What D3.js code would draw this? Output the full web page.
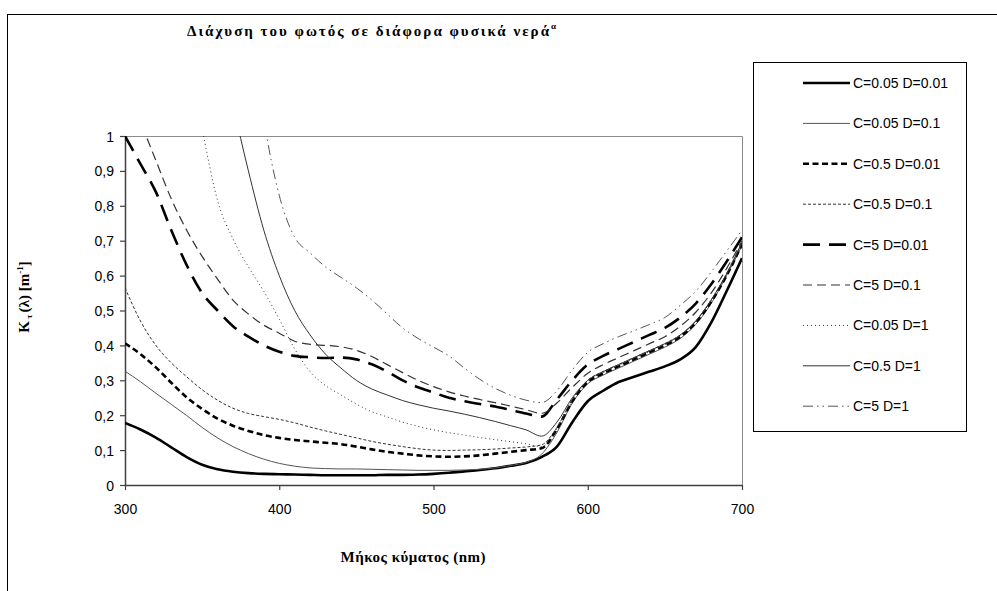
<!DOCTYPE html>
<html>
<head>
<meta charset="utf-8">
<script src="https://cdnjs.cloudflare.com/ajax/libs/d3/7.8.5/d3.min.js"></script>
<style>
  body { margin: 0; background: #fff; }
  svg { display: block; }
  .tick text { font-family: "Liberation Sans", Arial, sans-serif; font-size: 14px; fill: #000; }
  .legend text { font-family: "Liberation Sans", Arial, sans-serif; font-size: 14px; fill: #000; }
  .serif { font-family: "Liberation Serif", "Times New Roman", serif; font-weight: bold; fill: #000; }
</style>
</head>
<body>
<script>
// wavelength grid (nm)
var wavelengths = [300, 310, 320, 330, 340, 350, 360, 370, 380, 390,
  400, 410, 420, 430, 440, 450, 460, 470, 480, 490,
  500, 510, 520, 530, 540, 550, 560, 570, 580, 590,
  600, 610, 620, 630, 640, 650, 660, 670, 680, 690, 700];

// series names (legend order)
var seriesNames = ["C=0.05 D=0.01", "C=0.05 D=0.1", "C=0.5 D=0.01", "C=0.5 D=0.1",
  "C=5 D=0.01", "C=5 D=0.1", "C=0.05 D=1", "C=0.5 D=1", "C=5 D=1"];

// K(λ) values, one per wavelength (null = not plotted)
var c005d001 = [0.178, 0.159, 0.136, 0.108, 0.08, 0.058, 0.045, 0.038, 0.034, 0.032,
  0.031, 0.030, 0.029, 0.028, 0.028, 0.028, 0.028, 0.029, 0.029, 0.030,
  0.032, 0.035, 0.039, 0.043, 0.048, 0.055, 0.063, 0.08, 0.11, 0.18,
  0.24, 0.27, 0.295, 0.31, 0.325, 0.34, 0.36, 0.395, 0.465, 0.555, 0.65];
var c005d01 = [0.326, 0.296, 0.263, 0.231, 0.199, 0.165, 0.135, 0.11, 0.09, 0.074,
  0.062, 0.054, 0.049, 0.047, 0.046, 0.046, 0.045, 0.044, 0.043, 0.042,
  0.042, 0.042, 0.043, 0.045, 0.049, 0.056, 0.065, 0.088, 0.15, 0.235,
  0.29, 0.315, 0.335, 0.355, 0.375, 0.395, 0.42, 0.46, 0.52, 0.6, 0.685];
var c05d001 = [0.406, 0.375, 0.337, 0.293, 0.251, 0.218, 0.19, 0.17, 0.155, 0.143,
  0.135, 0.129, 0.125, 0.121, 0.117, 0.11, 0.102, 0.095, 0.09, 0.085,
  0.082, 0.081, 0.082, 0.085, 0.09, 0.095, 0.1, 0.105, 0.16, 0.24,
  0.295, 0.32, 0.34, 0.36, 0.38, 0.4, 0.425, 0.465, 0.525, 0.6, 0.69];
var c05d01 = [0.565, 0.47, 0.4, 0.35, 0.31, 0.273, 0.243, 0.22, 0.205, 0.196,
  0.188, 0.178, 0.166, 0.155, 0.145, 0.135, 0.125, 0.117, 0.11, 0.104,
  0.1, 0.099, 0.1, 0.101, 0.103, 0.106, 0.109, 0.115, 0.165, 0.245,
  0.3, 0.325, 0.345, 0.365, 0.385, 0.405, 0.43, 0.47, 0.53, 0.605, 0.695];
var c5d001 = [1.0, 0.92, 0.84, 0.73, 0.63, 0.55, 0.5, 0.455, 0.425, 0.4,
  0.382, 0.37, 0.366, 0.364, 0.365, 0.36, 0.346, 0.325, 0.3, 0.28,
  0.265, 0.25, 0.24, 0.232, 0.225, 0.215, 0.205, 0.196, 0.245, 0.3,
  0.345, 0.37, 0.39, 0.41, 0.43, 0.45, 0.48, 0.52, 0.575, 0.64, 0.71];
var c5d01 = [1.14, 1.04, 0.93, 0.82, 0.73, 0.655, 0.59, 0.53, 0.49, 0.458,
  0.435, 0.412, 0.403, 0.4, 0.396, 0.386, 0.368, 0.345, 0.322, 0.3,
  0.282, 0.267, 0.255, 0.245, 0.236, 0.226, 0.216, 0.205, 0.235, 0.28,
  0.32, 0.345, 0.365, 0.385, 0.405, 0.425, 0.455, 0.495, 0.55, 0.62, 0.70];
var c005d1 = [null, null, null, 1.6, 1.25, 1.02, 0.815, 0.705, 0.625, 0.555,
  0.475, 0.39, 0.325, 0.285, 0.258, 0.232, 0.21, 0.195, 0.18, 0.168,
  0.158, 0.15, 0.143, 0.136, 0.13, 0.124, 0.118, 0.11, 0.16, 0.24,
  0.298, 0.322, 0.342, 0.362, 0.382, 0.402, 0.428, 0.468, 0.528, 0.602, 0.69];
var c05d1 = [null, null, null, null, null, 1.6, 1.3, 1.09, 0.9, 0.73,
  0.6, 0.5, 0.43, 0.375, 0.335, 0.3, 0.275, 0.258, 0.242, 0.23,
  0.22, 0.212, 0.203, 0.193, 0.182, 0.17, 0.158, 0.14, 0.18, 0.25,
  0.3, 0.325, 0.345, 0.365, 0.385, 0.405, 0.43, 0.47, 0.53, 0.605, 0.695];
var c5d1 = [null, null, null, null, null, null, null, 1.9, 1.4, 1.05,
  0.83, 0.71, 0.665, 0.625, 0.595, 0.565, 0.53, 0.49, 0.45, 0.42,
  0.395, 0.37, 0.335, 0.303, 0.277, 0.257, 0.243, 0.236, 0.27, 0.33,
  0.38, 0.405, 0.425, 0.442, 0.46, 0.48, 0.515, 0.555, 0.61, 0.67, 0.73];

var xTicks = [300, 400, 500, 600, 700];
var yTicks = [0, 0.1, 0.2, 0.3, 0.4, 0.5, 0.6, 0.7, 0.8, 0.9, 1];

// line styles per series
var styles = [
  { stroke: "#000", width: 2.6, dash: null },
  { stroke: "#555", width: 1, dash: null },
  { stroke: "#000", width: 2.6, dash: "6,3.5" },
  { stroke: "#333", width: 1, dash: "3,2" },
  { stroke: "#000", width: 2.6, dash: "17,9" },
  { stroke: "#333", width: 1.2, dash: "9,5" },
  { stroke: "#333", width: 1, dash: "1,3" },
  { stroke: "#333", width: 1, dash: null },
  { stroke: "#555", width: 1, dash: "10,4,1.5,4,1.5,4" }
];

var allValues = [c005d001, c005d01, c05d001, c05d01, c5d001, c5d01, c005d1, c05d1, c5d1];

var svgWidth = 997, svgHeight = 591;
var margin = { top: 136, right: 255, bottom: 106, left: 125 };
var width = svgWidth - margin.left - margin.right;
var height = svgHeight - margin.top - margin.bottom;

var svg = d3.select("body").append("svg")
  .attr("width", svgWidth)
  .attr("height", svgHeight);

// outer chart frame (runs off the right and bottom edges)
svg.append("rect")
  .attr("x", 7.5).attr("y", 14.5)
  .attr("width", 1000).attr("height", 600)
  .attr("fill", "none").attr("stroke", "#000");

// title
svg.append("text")
  .attr("class", "serif")
  .attr("x", 187).attr("y", 36)
  .attr("font-size", 15)
  .attr("textLength", 362)
  .attr("lengthAdjust", "spacing")
  .text("Διάχυση του φωτός σε διάφορα φυσικά νερά");
svg.append("text")
  .attr("class", "serif")
  .attr("x", 551).attr("y", 29)
  .attr("font-size", 9)
  .text("α");

var chartGroup = svg.append("g")
  .attr("transform", `translate(${margin.left}, ${margin.top})`);

var xScale = d3.scaleLinear().domain([300, 700]).range([0, width]);
var yScale = d3.scaleLinear().domain([0, 1]).range([height, 0]);

// gray plot border (top and right)
chartGroup.append("path")
  .attr("d", `M0,0.5H${width + 0.5}V${height}`)
  .attr("fill", "none")
  .attr("stroke", "#8c8c8c");

chartGroup.append("clipPath").attr("id", "plotclip")
  .append("rect").attr("x", 0).attr("y", 0).attr("width", width).attr("height", height);

var fmt = d => (+d.toFixed(1)).toString().replace(".", ",");

var xAxis = chartGroup.append("g")
  .attr("transform", `translate(0, ${height})`)
  .call(d3.axisBottom(xScale).tickValues(xTicks).tickSize(5).tickSizeOuter(0).tickPadding(14));

var yAxis = chartGroup.append("g")
  .call(d3.axisLeft(yScale).tickValues(yTicks).tickFormat(fmt).tickSize(5).tickSizeOuter(0).tickPadding(6));

[xAxis, yAxis].forEach(function(ax) {
  ax.select(".domain").attr("stroke", "#404040").attr("stroke-width", 1.5);
  ax.selectAll(".tick line").attr("stroke", "#404040").attr("stroke-width", 1.2);
});
yAxis.selectAll(".tick text").attr("dy", "0.36em");

var line = d3.line()
  .defined(d => d.v !== null)
  .x(d => xScale(d.w))
  .y(d => yScale(d.v))
  .curve(d3.curveMonotoneX);

var plotGroup = chartGroup.append("g").attr("clip-path", "url(#plotclip)");

allValues.forEach(function(vals, i) {
  var pts = wavelengths.map((w, j) => ({ w: w, v: vals[j] }));
  plotGroup.append("path")
    .datum(pts)
    .attr("d", line)
    .attr("fill", "none")
    .attr("stroke", styles[i].stroke)
    .attr("stroke-width", styles[i].width)
    .attr("stroke-dasharray", styles[i].dash);
});

// axis titles
svg.append("text")
  .attr("class", "serif")
  .attr("x", 413).attr("y", 562)
  .attr("text-anchor", "middle")
  .attr("font-size", 15)
  .attr("textLength", 145)
  .attr("lengthAdjust", "spacing")
  .text("Μήκος κύματος (nm)");

var yTitle = svg.append("text")
  .attr("class", "serif")
  .attr("transform", "translate(29, 297) rotate(-90)")
  .attr("text-anchor", "middle")
  .attr("font-size", 15);
yTitle.append("tspan").text("K");
yTitle.append("tspan").attr("font-size", 9).attr("dy", 3).text(" τ ");
yTitle.append("tspan").attr("dy", -3).text("(λ) [m");
yTitle.append("tspan").attr("font-size", 9).attr("dy", -6).text("-1");
yTitle.append("tspan").attr("dy", 6).text("]");

// legend
var legend = svg.append("g").attr("class", "legend");
legend.append("rect")
  .attr("x", 753.5).attr("y", 62.5)
  .attr("width", 213).attr("height", 369)
  .attr("fill", "#fff").attr("stroke", "#000");

seriesNames.forEach(function(name, i) {
  var y = 83 + i * 40.4;
  legend.append("line")
    .attr("x1", 803).attr("x2", 850)
    .attr("y1", y).attr("y2", y)
    .attr("stroke", styles[i].stroke)
    .attr("stroke-width", styles[i].width)
    .attr("stroke-dasharray", styles[i].dash);
  legend.append("text")
    .attr("x", 853).attr("y", y)
    .attr("dy", "0.35em")
    .text(name);
});
</script>
</body>
</html>
